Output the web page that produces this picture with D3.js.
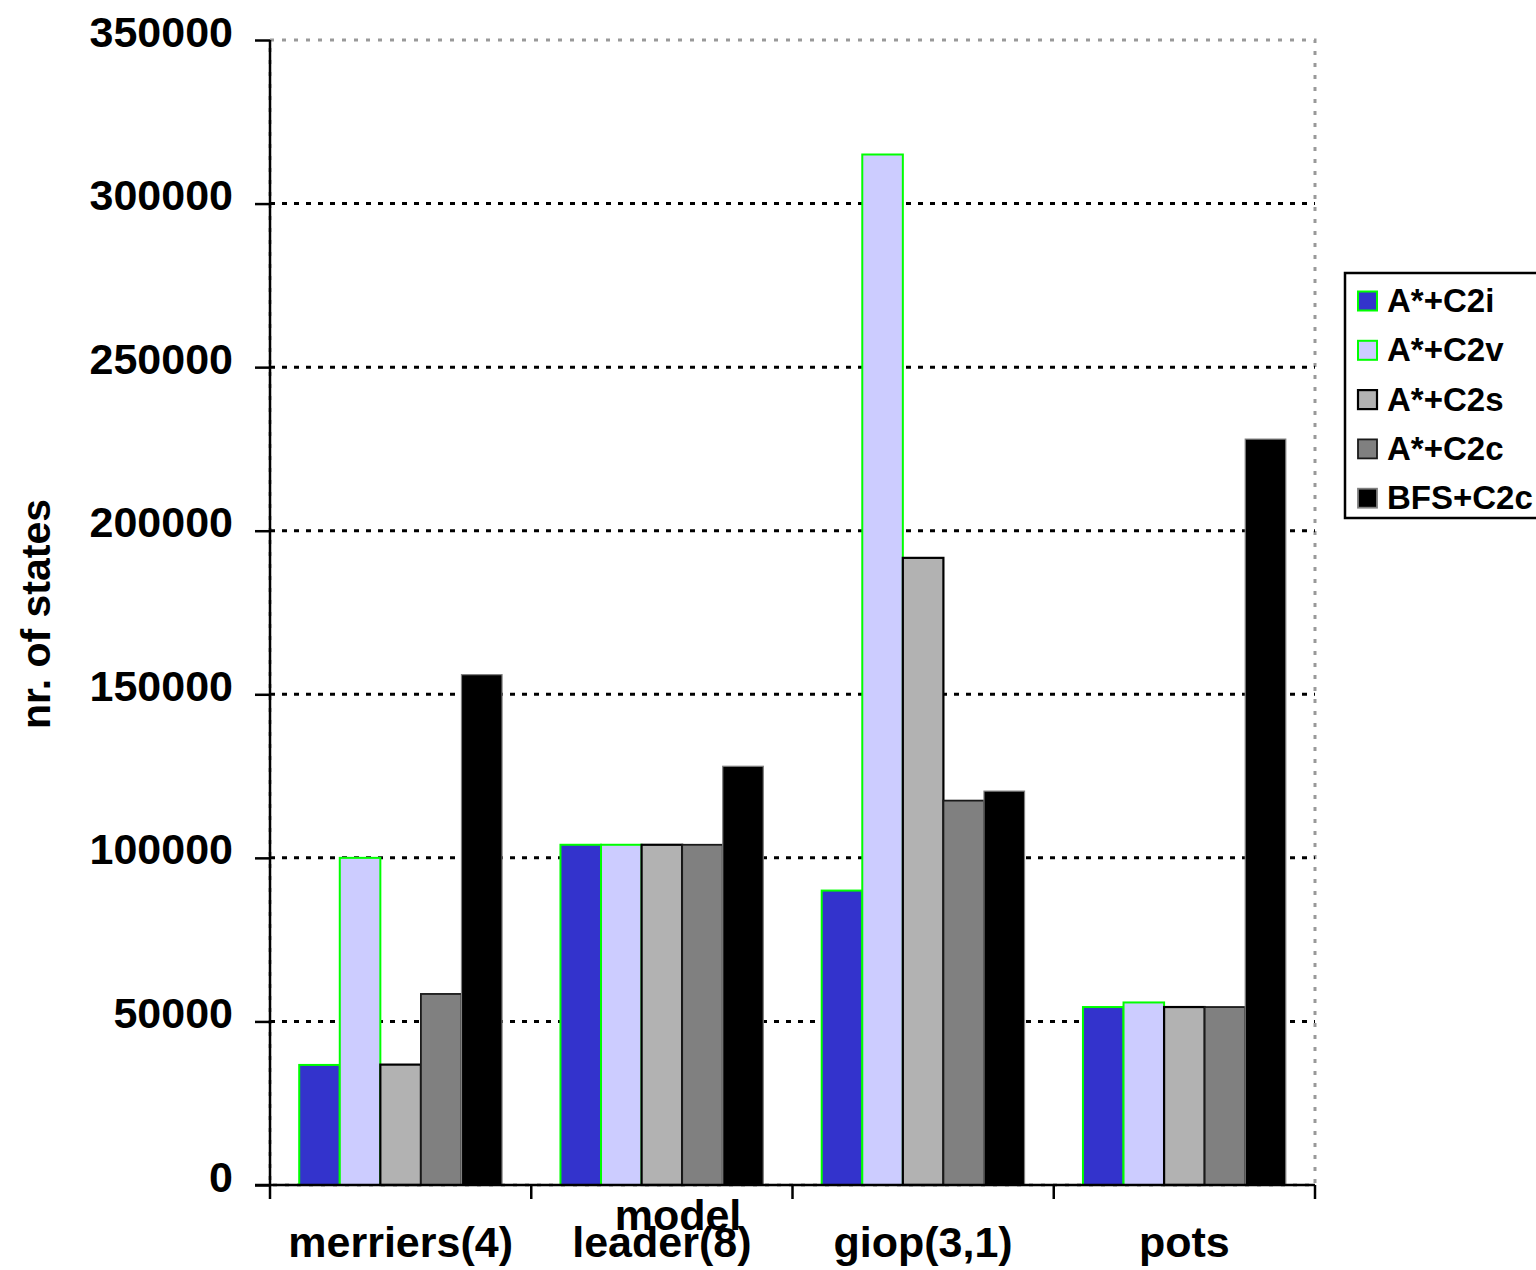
<!DOCTYPE html>
<html>
<head>
<meta charset="utf-8">
<script src="https://cdn.jsdelivr.net/npm/d3@7"></script>
<style>
  html, body { margin: 0; padding: 0; background: #fff; }
  svg { display: block; }
  text { font-family: "Liberation Sans", Arial, sans-serif; font-weight: bold; fill: #000; }
</style>
</head>
<body>
<svg id="chart" width="1536" height="1270"></svg>
<script>
// Models on the x axis
const categories = ["merriers(4)", "leader(8)", "giop(3,1)", "pots"];
// Search configurations (legend order)
const series = ["A*+C2i", "A*+C2v", "A*+C2s", "A*+C2c", "BFS+C2c"];
// Number of states per configuration, one value per model
const astarC2i = [36700, 104000, 90000, 54400];
const astarC2v = [100000, 104000, 315000, 55800];
const astarC2s = [36800, 104000, 191700, 54400];
const astarC2c = [58400, 104000, 117500, 54400];
const bfsC2c   = [156000, 128000, 120400, 228000];
const yTicks = [0, 50000, 100000, 150000, 200000, 250000, 300000, 350000];

const values = [astarC2i, astarC2v, astarC2s, astarC2c, bfsC2c];
const fills   = ["#3333cc", "#ccccff", "#b2b2b2", "#808080", "#000000"];
const strokes = ["#00ff00", "#00ff00", "#000000", "#1a1a1a", "#7f7f7f"];
const strokeW = [2, 2, 2.2, 1.8, 1.2];

const svg = d3.select("#chart");
const plotL = 270, plotR = 1315, plotT = 40, plotB = 1185;

const y = d3.scaleLinear().domain([0, 350000]).range([plotB, plotT]);
const x0 = d3.scaleBand().domain(categories).range([plotL, plotR]).paddingInner(0).paddingOuter(0);
const x1 = d3.scaleBand().domain(series).range([0, x0.bandwidth()]).paddingInner(0).paddingOuter(0.72);

// plot-area border (gray dotted)
svg.append("rect")
  .attr("x", plotL).attr("y", plotT)
  .attr("width", plotR - plotL).attr("height", plotB - plotT)
  .attr("fill", "#fff")
  .attr("stroke", "#999").attr("stroke-width", 3)
  .attr("stroke-dasharray", "4,8");

// horizontal gridlines
svg.append("g").selectAll("line")
  .data(yTicks.filter(t => t > 0 && t < 350000))
  .join("line")
  .attr("x1", plotL).attr("x2", plotR)
  .attr("y1", d => y(d)).attr("y2", d => y(d))
  .attr("stroke", "#000").attr("stroke-width", 3)
  .attr("stroke-dasharray", "5,7");

// bars
const rows = categories.map((c, ci) => ({ c, vals: series.map((s, si) => ({ s, si, v: values[si][ci] })) }));
svg.append("g").selectAll("g")
  .data(rows)
  .join("g")
  .attr("transform", d => `translate(${x0(d.c)},0)`)
  .selectAll("rect")
  .data(d => d.vals)
  .join("rect")
  .attr("x", d => x1(d.s))
  .attr("width", x1.bandwidth())
  .attr("y", d => y(d.v))
  .attr("height", d => y(0) - y(d.v))
  .attr("fill", d => fills[d.si])
  .attr("stroke", d => strokes[d.si])
  .attr("stroke-width", d => strokeW[d.si]);

// y axis
const yAxis = svg.append("g")
  .attr("transform", `translate(${plotL},0)`)
  .call(d3.axisLeft(y).tickValues(yTicks).tickFormat(d3.format("d")).tickSize(15).tickPadding(22));
yAxis.select(".domain").attr("stroke", "#000").attr("stroke-width", 2.5)
  .attr("d", `M0,${plotT}V${plotB + 14}`);
yAxis.selectAll(".tick line").attr("stroke", "#000").attr("stroke-width", 2.5);
yAxis.selectAll(".tick text")
  .attr("dy", "0.14em")
  .style("font-size", "43px")
  .style("font-family", "'Liberation Sans', Arial, sans-serif")
  .style("font-weight", "bold")
  .attr("fill", "#000");

// x axis: baseline and ticks at category boundaries
const xAxis = svg.append("g");
xAxis.append("line")
  .attr("x1", plotL - 15).attr("x2", plotR)
  .attr("y1", plotB).attr("y2", plotB)
  .attr("stroke", "#000").attr("stroke-width", 2.5);
const edges = categories.map(c => x0(c)).concat([x0.range()[1]]);
xAxis.selectAll("line.edge")
  .data(edges.slice(1))
  .join("line")
  .attr("class", "edge")
  .attr("x1", d => d).attr("x2", d => d)
  .attr("y1", plotB).attr("y2", plotB + 14)
  .attr("stroke", "#000").attr("stroke-width", 2.5);
xAxis.selectAll("text")
  .data(categories)
  .join("text")
  .attr("x", d => x0(d) + x0.bandwidth() / 2)
  .attr("y", 1257)
  .attr("text-anchor", "middle")
  .style("font-size", "43px")
  .text(d => d);

// x axis title
svg.append("text")
  .attr("x", 678).attr("y", 1230)
  .attr("text-anchor", "middle")
  .style("font-size", "43px")
  .text("model");

// y axis title
svg.append("text")
  .attr("transform", "translate(50,614) rotate(-90)")
  .attr("text-anchor", "middle")
  .style("font-size", "41px")
  .text("nr. of states");

// legend
const legend = svg.append("g");
legend.append("rect")
  .attr("x", 1345).attr("y", 273)
  .attr("width", 220).attr("height", 245)
  .attr("fill", "#fff").attr("stroke", "#000").attr("stroke-width", 2.5);
const items = legend.selectAll("g.item")
  .data(series)
  .join("g")
  .attr("class", "item")
  .attr("transform", (d, i) => `translate(0,${301 + i * 49.3})`);
items.append("rect")
  .attr("x", 1358).attr("y", -9.5)
  .attr("width", 19).attr("height", 19)
  .attr("fill", (d, i) => fills[i])
  .attr("stroke", (d, i) => strokes[i])
  .attr("stroke-width", (d, i) => Math.max(strokeW[i], 1.8));
items.append("text")
  .attr("x", 1387).attr("y", 11)
  .style("font-size", "33px")
  .text(d => d);
</script>
</body>
</html>
